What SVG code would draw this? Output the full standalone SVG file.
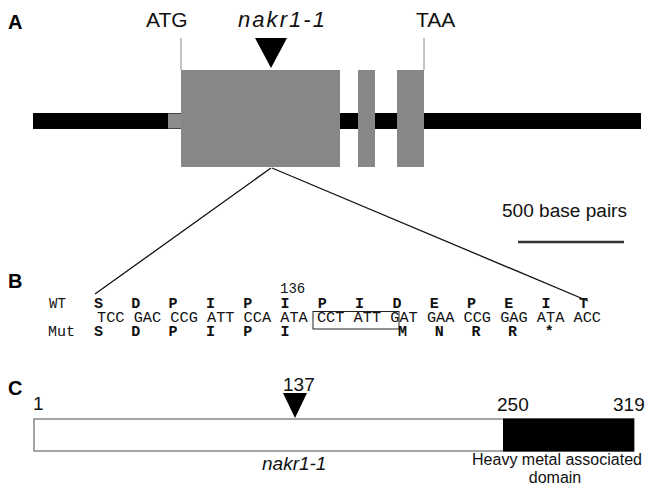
<svg xmlns="http://www.w3.org/2000/svg" width="648" height="491" viewBox="0 0 648 491">
<style>
.lab{font-family:"Liberation Sans",Arial,sans-serif;font-weight:bold;font-size:20px;fill:#000}
.sans{font-family:"Liberation Sans",Arial,sans-serif;fill:#111}
.mono{font-family:"Liberation Mono","Courier New",monospace;fill:#111}
.aa{font-family:"Liberation Mono","Courier New",monospace;font-weight:bold;font-size:15px;fill:#111}
.exon{fill:#878787}
.conn{stroke:#111;stroke-width:1.3;fill:none}
.tick{stroke:#888;stroke-width:1;fill:none}
</style>
<rect width="648" height="491" fill="#fff"/>
<g id="panel-labels">
<text class="lab" x="8" y="29">A</text>
<text class="lab" x="8" y="288">B</text>
<text class="lab" x="8" y="395">C</text>
</g>
<g id="gene-model">
<rect x="33" y="113" width="608" height="16" fill="#000"/>
<rect x="168" y="113.5" width="14" height="15" fill="#8c8c8c"/>
<rect class="exon" x="181" y="70" width="159" height="97"/>
<rect class="exon" x="358" y="70" width="17" height="97"/>
<rect class="exon" x="397" y="70" width="27" height="97"/>
</g>
<g id="gene-labels">
<text class="sans" x="146" y="27" font-size="21">ATG</text>
<text class="sans" x="238" y="27" font-size="22" font-style="italic" textLength="87" lengthAdjust="spacing">nakr1-1</text>
<text class="sans" x="416" y="27" font-size="21">TAA</text>
<polygon points="255,38 287,38 271,68" fill="#000"/>
</g>
<g id="scale-bar">
<text class="sans" x="502" y="217" font-size="18" textLength="125" lengthAdjust="spacingAndGlyphs">500 base pairs</text>
<line x1="518" y1="242" x2="624" y2="242" stroke="#333" stroke-width="2.5"/>
</g>
<g id="connectors">
<line class="tick" x1="181" y1="38" x2="181" y2="70"/>
<line class="tick" x1="424" y1="38" x2="424" y2="70"/>
<line class="conn" x1="271" y1="168" x2="95" y2="294"/>
<line class="conn" x1="272" y1="168" x2="588" y2="301"/>
</g>
<g id="sequence">
<text class="mono" x="280" y="293" font-size="14">136</text>
<text class="mono" x="49" y="308" font-size="14">WT</text>
<text class="aa" x="94 131.3 168.6 205.9 243.2 280.5 317.8 355.1 392.4 429.7 467 504.3 541.6 578.9" y="308">SDPIPIPIDEPEIT</text>
<text class="mono" x="97" y="322" font-size="15.28" textLength="504" lengthAdjust="spacing">TCC GAC CCG ATT CCA ATA CCT ATT GAT GAA CCG GAG ATA ACC</text>
<rect x="313" y="311.5" width="86" height="17.5" fill="none" stroke="#222" stroke-width="1"/>
<text class="mono" x="48" y="336" font-size="15">Mut</text>
<text class="aa" x="94 131.3 168.6 205.9 243.2 280.5 398 434.7 471.4 508.1 544.8" y="336">SDPIPIMNRR*</text>
</g>
<g id="protein">
<rect x="34" y="419" width="600" height="32" fill="#fff" stroke="#888" stroke-width="1.5"/>
<rect x="503" y="418.5" width="131" height="33" fill="#000"/>
<polygon points="283,393 307,393 295,418" fill="#000"/>
<text class="sans" x="33" y="410" font-size="19">1</text>
<text class="sans" x="283" y="391" font-size="19">137</text>
<text class="sans" x="497" y="411" font-size="19">250</text>
<text class="sans" x="613" y="411" font-size="19">319</text>
<text class="sans" x="262" y="470" font-size="19" font-style="italic">nakr1-1</text>
<text class="sans" x="557" y="465" font-size="16" text-anchor="middle">Heavy metal associated</text>
<text class="sans" x="555" y="483" font-size="16" text-anchor="middle">domain</text>
</g>
</svg>
